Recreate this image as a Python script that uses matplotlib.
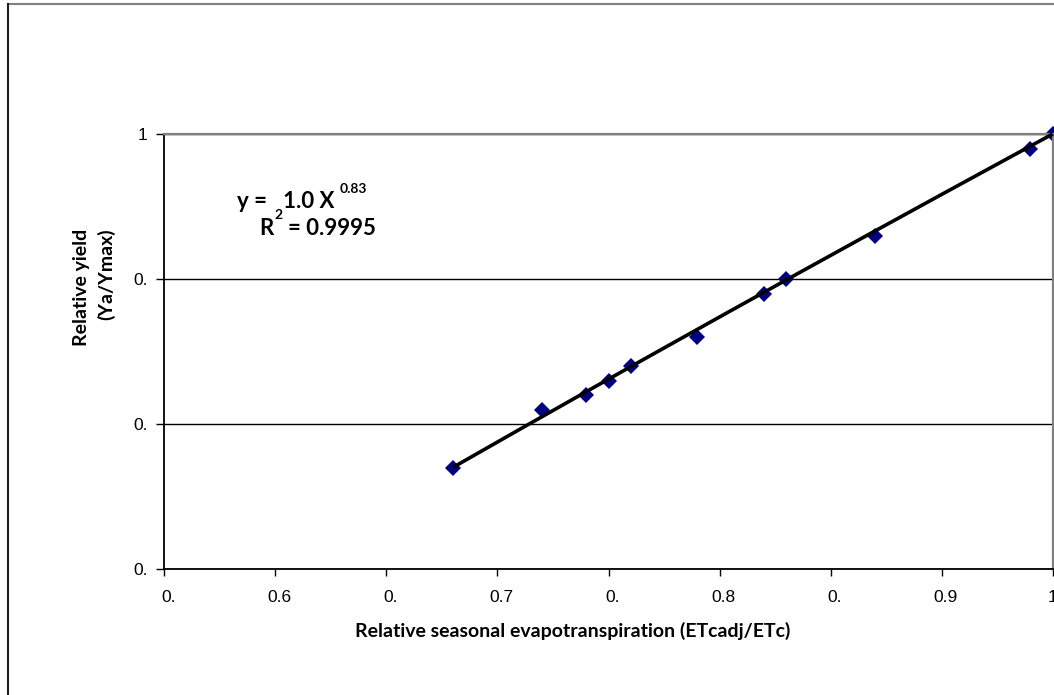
import numpy as np
import matplotlib
matplotlib.use("Agg")
import matplotlib.pyplot as plt
from matplotlib.lines import Line2D
from matplotlib.transforms import ScaledTranslation

# ---- Data ----------------------------------------------------------------
et_ratio = [0.73, 0.77, 0.79, 0.80, 0.81, 0.84, 0.87, 0.88, 0.92, 0.99, 1.00]
yield_ratio = [0.77, 0.81, 0.82, 0.83, 0.84, 0.86, 0.89, 0.90, 0.93, 0.99, 1.00]

# power trendline  y = a * x^b  (from the chart annotation)
fit_a = 1.0
fit_b = 0.83
fit_r2 = 0.9995

x_ticks = [0.60, 0.65, 0.70, 0.75, 0.80, 0.85, 0.90, 0.95, 1.00]
x_tick_labels = ["0.", "0.6", "0.", "0.7", "0.", "0.8", "0.", "0.9", "1"]
y_ticks = [0.7, 0.8, 0.9, 1.0]
y_tick_labels = ["0.", "0.", "0.", "1"]

W, H = 1054, 695


def px(x, y):
    # pixel position -> figure fraction
    return x / W, 1 - y / H


# ---- Figure setup --------------------------------------------------------
fig = plt.figure(figsize=(W / 100, H / 100), dpi=100)
ax = fig.add_axes([164.3 / W, 1 - 569 / H, (1052.7 - 164.3) / W, (569 - 134) / H])

xs = np.linspace(min(et_ratio), max(et_ratio), 200)
ax.plot(xs, fit_a * xs ** fit_b, color="black", lw=2.6, zorder=3,
        solid_capstyle="butt", clip_on=False)
ax.plot(et_ratio, yield_ratio, ls="none", marker="D", markersize=8.5,
        color="#000080", markeredgewidth=0, zorder=2, clip_on=False)

ax.set_xlim(0.60, 1.00)
ax.set_ylim(0.70, 1.00)
ax.set_xticks(x_ticks)
ax.set_xticklabels(x_tick_labels, family="Liberation Sans", fontsize=12.5)
ax.set_yticks(y_ticks)
ax.set_yticklabels(y_tick_labels, family="Liberation Sans", fontsize=12.5)
ax.tick_params(axis="x", direction="out", length=5, width=1, pad=10)
ax.tick_params(axis="y", direction="out", length=6, width=1, pad=6)
for lab in ax.get_xticklabels()[:-1]:
    lab.set_transform(lab.get_transform() + ScaledTranslation(0.04, 0, fig.dpi_scale_trans))

ax.grid(True, axis="y", color="black", lw=1)
ax.set_axisbelow(True)

ax.spines["left"].set_color("black")
ax.spines["bottom"].set_color("black")
ax.spines["left"].set_linewidth(1.3)
ax.spines["bottom"].set_linewidth(1.3)
for s in ("top", "right"):
    ax.spines[s].set_color("#808080")
    ax.spines[s].set_linewidth(1.6)

bold = dict(family="Lato", fontweight="bold", color="black")

# axis titles
fig.text(*px(573, 637), "Relative seasonal evapotranspiration (ETcadj/ETc)",
         ha="center", va="baseline", fontsize=14, **bold)
fig.text(*px(94, 287), "Relative yield\n(Ya/Ymax)", rotation=90,
         ha="center", va="center", multialignment="right",
         linespacing=1.45, fontsize=14, **bold)

# trendline equation
fig.text(*px(236.7, 208), f"y =   {fit_a:.1f} X", ha="left", va="baseline",
         fontsize=16, **bold)
fig.text(*px(340, 193), f"{fit_b:.2f}", ha="left", va="baseline",
         fontsize=10, **bold)
fig.text(*px(259, 235), "R", ha="left", va="baseline", fontsize=16, **bold)
fig.text(*px(274, 219), "2", ha="left", va="baseline", fontsize=10, **bold)
fig.text(*px(288, 235), f"= {fit_r2:.4f}", ha="left", va="baseline",
         fontsize=16, **bold)

# chart-area frame (top and left edges visible)
fig.add_artist(Line2D([8 / W, 1], [1 - 3.8 / H] * 2, transform=fig.transFigure,
                      color="#808080", lw=1.5))
fig.add_artist(Line2D([8 / W] * 2, [0, 1 - 3.8 / H], transform=fig.transFigure,
                      color="#202020", lw=1.5))

fig.savefig("out.png", dpi=100)
